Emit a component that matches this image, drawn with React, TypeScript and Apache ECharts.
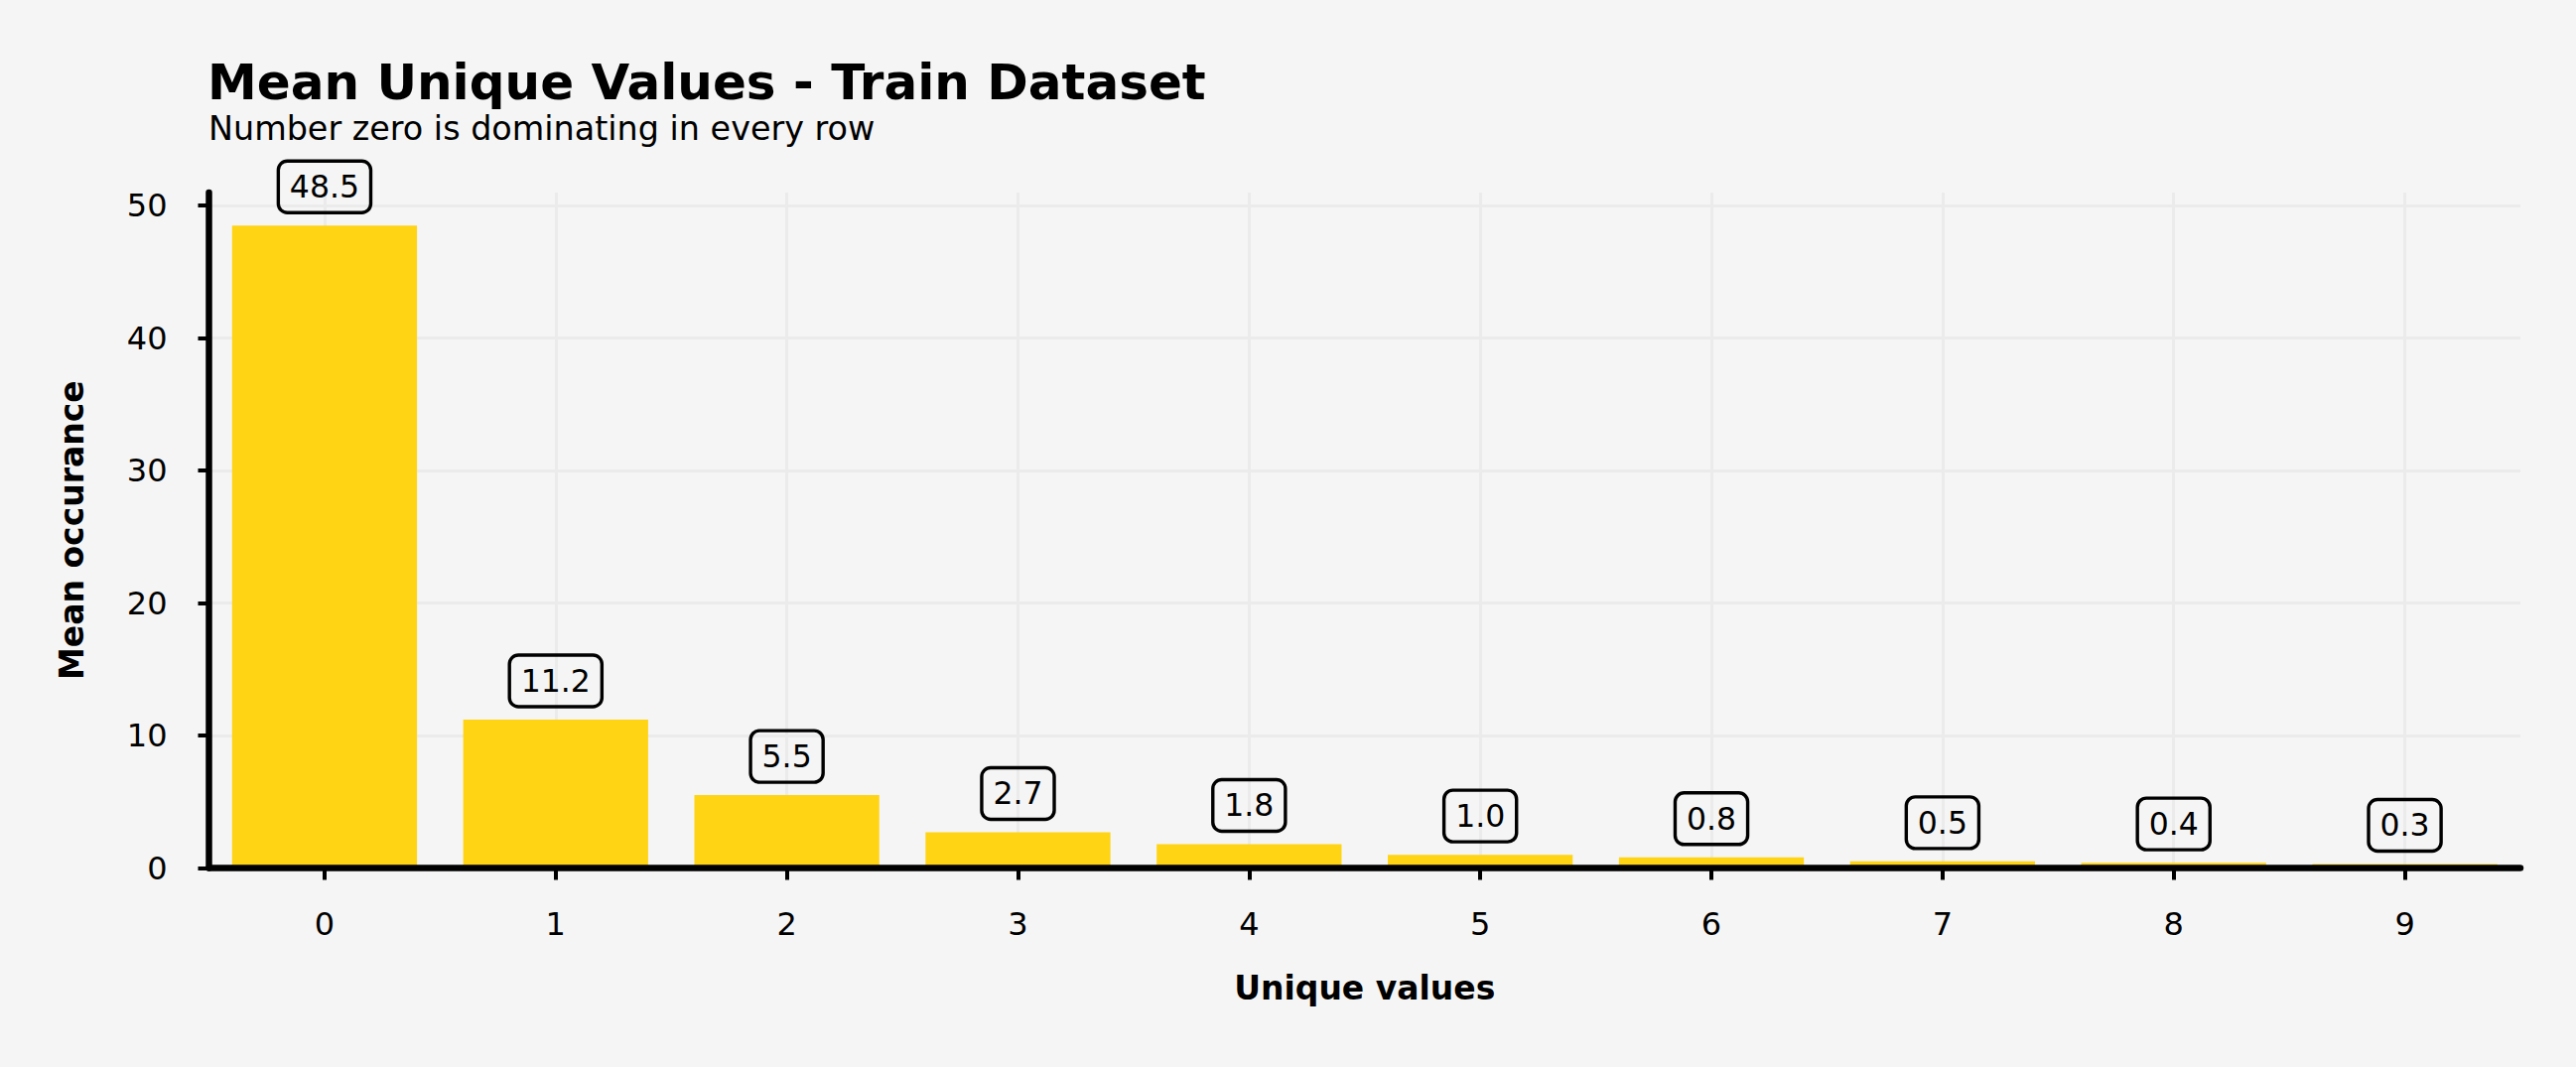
import React, { useEffect, useRef } from "react";
import * as echarts from "echarts";

const categories = ["0", "1", "2", "3", "4", "5", "6", "7", "8", "9"];
const meanValues = [48.5, 11.2, 5.5, 2.7, 1.8, 1.0, 0.8, 0.5, 0.4, 0.3];
const yTicks = [0, 10, 20, 30, 40, 50];
const titleText = "Mean Unique Values - Train Dataset";
const subtitleText = "Number zero is dominating in every row";
const xName = "Unique values";
const yName = "Mean occurance";

const FONT = "DejaVu Sans";

export default function App() {
  const ref = useRef<HTMLDivElement>(null);
  useEffect(() => {
    if (!ref.current) return;
    const chart = echarts.init(ref.current, undefined, { renderer: "svg" });
    const option: any = {
      animation: false,
      backgroundColor: "#f5f5f5",
      textStyle: { fontFamily: FONT },
      title: [
        {
          text: titleText,
          left: 209,
          top: 58,
          padding: 0,
          textStyle: { fontFamily: FONT, fontSize: 50, fontWeight: "bold", color: "#000" },
        },
        {
          text: subtitleText,
          left: 210,
          top: 113,
          padding: 0,
          textStyle: { fontFamily: FONT, fontSize: 33.4, fontWeight: "normal", color: "#000" },
        },
      ],
      grid: { left: 210.5, right: 56, top: 193.9, bottom: 200.5 },
      xAxis: [
        {
          type: "category",
          data: categories,
          boundaryGap: true,
          position: "bottom",
          z: 0,
          axisLine: { show: false },
          axisTick: { show: false },
          axisLabel: { show: false },
          splitLine: { show: true, alignWithLabel: true, lineStyle: { color: "#ebebeb", width: 3 } },
        },
        {
          type: "category",
          data: categories,
          boundaryGap: true,
          position: "bottom",
          z: 10,
          axisLine: { show: true, lineStyle: { color: "#000", width: 6.5 } },
          axisTick: { show: true, alignWithLabel: true, length: 12, lineStyle: { color: "#000", width: 4 } },
          axisLabel: { margin: 40, fontSize: 32, color: "#000", fontFamily: FONT },
          splitLine: { show: false },
          name: xName,
          nameLocation: "middle",
          nameGap: 104,
          nameTextStyle: { fontFamily: FONT, fontSize: 33, fontWeight: "bold", color: "#000" },
        },
      ],
      yAxis: {
        type: "value",
        min: 0,
        max: 51,
        z: 0,
        axisLine: { show: true, lineStyle: { color: "#000", width: 6.5 } },
        axisTick: { show: true, length: 11, customValues: yTicks, lineStyle: { color: "#000", width: 4 } },
        axisLabel: { customValues: yTicks, margin: 42, fontSize: 32, color: "#000", fontFamily: FONT },
        splitLine: { show: true, lineStyle: { color: "#ebebeb", width: 3 } },
        name: yName,
        nameLocation: "middle",
        nameGap: 122,
        nameTextStyle: { fontFamily: FONT, fontSize: 33, fontWeight: "bold", color: "#000" },
      },
      series: [
        {
          type: "bar",
          xAxisIndex: 0,
          data: meanValues,
          barWidth: "80%",
          z: 2,
          itemStyle: { color: "#FFD415" },
          label: {
            show: true,
            position: "top",
            distance: 13,
            formatter: (p: any) => Number(p.value).toFixed(1),
            fontFamily: FONT,
            fontSize: 31.5,
            color: "#000",
            borderColor: "#000",
            borderWidth: 1.7,
            borderRadius: 9,
            padding: [10, 11.5],
            backgroundColor: "transparent",
          },
        },
      ],
    };
    chart.setOption(option);
    return () => chart.dispose();
  }, []);
  return (
    <div
      ref={ref}
      style={{ position: "absolute", left: 0, top: 0, width: 2595, height: 1075 }}
    />
  );
}
